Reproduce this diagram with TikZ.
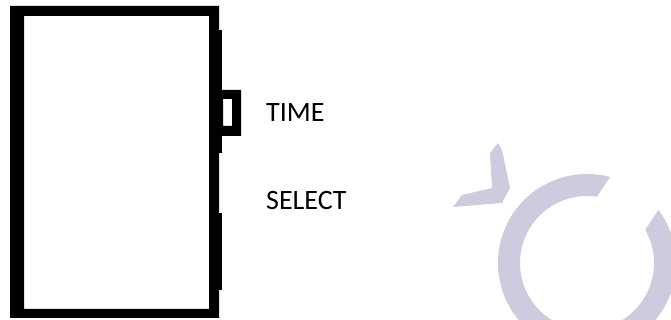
\documentclass[tikz,border=0pt]{standalone}
\usepackage{fontspec}
\setmainfont{Carlito}
\begin{document}
\begin{tikzpicture}[x=1pt,y=1pt,
  wall/.style={fill=black,even odd rule},
  wmark/.style={fill=wmcol},
  label/.style={anchor=west,inner sep=0pt,font=\fontsize{28}{30}\selectfont,text=black}]
\definecolor{wmcol}{RGB}{204,204,222}
\useasboundingbox (0,0) rectangle (671,320);
\clip (0,0) rectangle (671,320);
\fill[white] (0,0) rectangle (671,320);
% watermark
\coordinate (c) at (587,57);
\fill[wmark] ([shift={(75:89)}]c) arc[start angle=75,end angle=396.7,radius=89]
  -- ([shift={(29.6:67)}]c) arc[start angle=389.6,end angle=81.6,radius=67] -- cycle;
\fill[wmark] (498,177) -- (502,170) -- (510,132) -- (502,117) -- (453,113)
  -- (462,125) -- (492,132) -- (490,167) -- cycle;
% device body
\fill[wall] (10,2) rectangle (219,314) (24,11) rectangle (209,304);
\fill[black] (219,167) rectangle (222,290);
\fill[black] (219,30) rectangle (222,107);
% button
\fill[wall] (209,184) rectangle (241,230) (223,194) rectangle (232,221);
% labels
\node[label] (time) at (266,207) {TIME};
\node[label] (select) at (266,119) {SELECT};
\end{tikzpicture}
\end{document}
